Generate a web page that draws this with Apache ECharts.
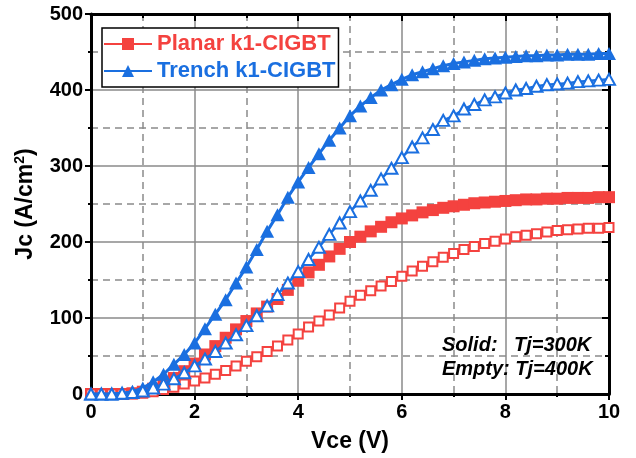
<!DOCTYPE html>
<html>
<head>
<meta charset="utf-8">
<script src="https://cdn.jsdelivr.net/npm/echarts@6/dist/echarts.min.js"></script>
<style>html,body{margin:0;padding:0;background:#fff;}#c{width:636px;height:458px;}</style>
</head>
<body>
<div id="c"></div>
<script>
var vce = [0,0.2,0.4,0.6,0.8,1.0,1.2,1.4,1.6,1.8,2.0,2.2,2.4,2.6,2.8,3.0,3.2,3.4,3.6,3.8,4.0,4.2,4.4,4.6,4.8,5.0,5.2,5.4,5.6,5.8,6.0,6.2,6.4,6.6,6.8,7.0,7.2,7.4,7.6,7.8,8.0,8.2,8.4,8.6,8.8,9.0,9.2,9.4,9.6,9.8,10];
var planar300 = [0,0,0,0,1,3,7,14,21,30,40,52,63,74,85,96,106,115,125,137,149,160,170,181,191,200,207,214,220,226,231,235,239,242,245,247,249,251,252,253,254,255,256,256,257,257,258,258,258,259,259];
var planar400 = [0,0,0,0,0,1,3,6,9,13,17,21,26,31,37,43,49,56,63,71,79,88,96,104,113,122,130,136,142,148,155,162,168,174,180,185,190,194,198,201,204,207,209,211,213,215,216,217,218,218,219];
var trench300 = [0,0,0,1,3,8,16,26,39,52,67,86,105,124,146,167,190,214,236,259,279,298,316,334,350,366,379,390,400,407,414,420,424,428,432,435,437,439,441,442,443,444,445,445,446,446,447,447,447,448,448];
var trench400 = [0,0,0,1,2,4,8,13,20,28,37,46,56,67,78,90,103,116,131,146,161,177,193,210,225,240,254,268,283,297,311,325,337,348,360,366,375,381,387,391,396,400,402,405,407,408,409,411,412,413,414];
var xTicks = [0,2,4,6,8,10];
var legendNames = ['Planar k1-CIGBT','Trench k1-CIGBT'];

var RED = '#F4423F', BLUE = '#1A6FE0';
function pairs(ys){ return vce.map(function(v,i){ return [v, ys[i]]; }); }

var chart = echarts.init(document.getElementById('c'));
var FONT = 'Liberation Sans, Arial, sans-serif';
var gridSolid = {show:true, lineStyle:{color:'#8a8a8a', width:1.5, type:'solid'}};
var gridDash = {show:true, lineStyle:{color:'#8a8a8a', width:1.5, type:[7,5]}};

chart.setOption({
  animation:false,
  grid:{left:91, right:27, top:14, bottom:64},
  legend:{
    data:legendNames, orient:'vertical', left:102, top:28,
    backgroundColor:'#fff', borderColor:'#000', borderWidth:1.5,
    padding:[5,3,5,1], itemGap:5, itemWidth:48, itemHeight:15,
    textStyle:{fontSize:22, fontWeight:'bold', fontFamily:FONT, color:'inherit'}
  },
  xAxis:[{
    type:'value', min:0, max:10, interval:2, position:'bottom',
    name:'Vce (V)', nameLocation:'middle', nameGap:36,
    nameTextStyle:{fontSize:23, fontWeight:'bold', fontFamily:FONT, color:'#000'},
    axisLine:{show:true, onZero:false, lineStyle:{color:'#000', width:3}},
    axisTick:{show:true, inside:false, length:6, lineStyle:{color:'#000', width:2}},
    minorTick:{show:true, splitNumber:2, length:3, lineStyle:{color:'#000', width:2}},
    axisLabel:{fontSize:20, fontWeight:'bold', fontFamily:FONT, color:'#000', margin:8,
      customValues: xTicks},
    splitLine:gridSolid, minorSplitLine:gridDash
  },{
    type:'value', min:0, max:10, interval:2, position:'top',
    axisLine:{show:true, onZero:false, lineStyle:{color:'#000', width:3}},
    axisTick:{show:true, inside:true, length:7, lineStyle:{color:'#000', width:2}},
    minorTick:{show:true, splitNumber:2, length:4, lineStyle:{color:'#000', width:2}},
    axisLabel:{show:false}, splitLine:{show:false}
  }],
  yAxis:[{
    type:'value', min:0, max:500, interval:100, position:'left',
    name:'{a|Jc (A/cm}{s|2}{a|)}', nameLocation:'middle', nameGap:52, nameRotate:90,
    nameTextStyle:{fontFamily:FONT, color:'#000',
      rich:{a:{fontSize:23, fontWeight:'bold', fontFamily:FONT, color:'#000'},
            s:{fontSize:14, fontWeight:'bold', fontFamily:FONT, color:'#000', padding:[0,0,12,0]}}},
    axisLine:{show:true, onZero:false, lineStyle:{color:'#000', width:3}},
    axisTick:{show:true, inside:false, length:6, lineStyle:{color:'#000', width:2}},
    minorTick:{show:true, splitNumber:2, length:3, lineStyle:{color:'#000', width:2}},
    axisLabel:{fontSize:20, fontWeight:'bold', fontFamily:FONT, color:'#000', margin:8},
    splitLine:gridSolid, minorSplitLine:gridDash
  },{
    type:'value', min:0, max:500, interval:100, position:'right',
    axisLine:{show:true, onZero:false, lineStyle:{color:'#000', width:3}},
    axisTick:{show:true, inside:true, length:7, lineStyle:{color:'#000', width:2}},
    minorTick:{show:true, splitNumber:2, length:4, lineStyle:{color:'#000', width:2}},
    axisLabel:{show:false}, splitLine:{show:false}
  }],
  series:[
    {name:legendNames[0], type:'line', data:pairs(planar300), symbol:'rect', symbolSize:12,
     showAllSymbol:true,
     lineStyle:{color:RED, width:3}, itemStyle:{color:RED}, z:2},
    {name:'Planar 400K', type:'line', data:pairs(planar400), symbol:'rect', symbolSize:9,
     showAllSymbol:true,
     lineStyle:{color:RED, width:2.5}, itemStyle:{color:'#fff', borderColor:RED, borderWidth:2}, z:3},
    {name:legendNames[1], type:'line', data:pairs(trench300), symbol:'triangle', symbolSize:[14,13],
     showAllSymbol:true,
     lineStyle:{color:BLUE, width:3}, itemStyle:{color:BLUE}, z:4},
    {name:'Trench 400K', type:'line', data:pairs(trench400), symbol:'triangle', symbolSize:[12,11],
     showAllSymbol:true,
     lineStyle:{color:BLUE, width:2.5}, itemStyle:{color:'#fff', borderColor:BLUE, borderWidth:2}, z:5}
  ],
  graphic:[
    {type:'text', left:442, top:335, z:100, style:{text:'Solid:', fontSize:20, fontWeight:'bold', fontStyle:'italic', fontFamily:FONT, fill:'#000'}},
    {type:'text', left:514, top:335, z:100, style:{text:'Tj=300K', fontSize:20, fontWeight:'bold', fontStyle:'italic', fontFamily:FONT, fill:'#000'}},
    {type:'text', left:442, top:359, z:100, style:{text:'Empty: Tj=400K', fontSize:20, fontWeight:'bold', fontStyle:'italic', fontFamily:FONT, fill:'#000'}}
  ]
});
</script>
</body>
</html>
